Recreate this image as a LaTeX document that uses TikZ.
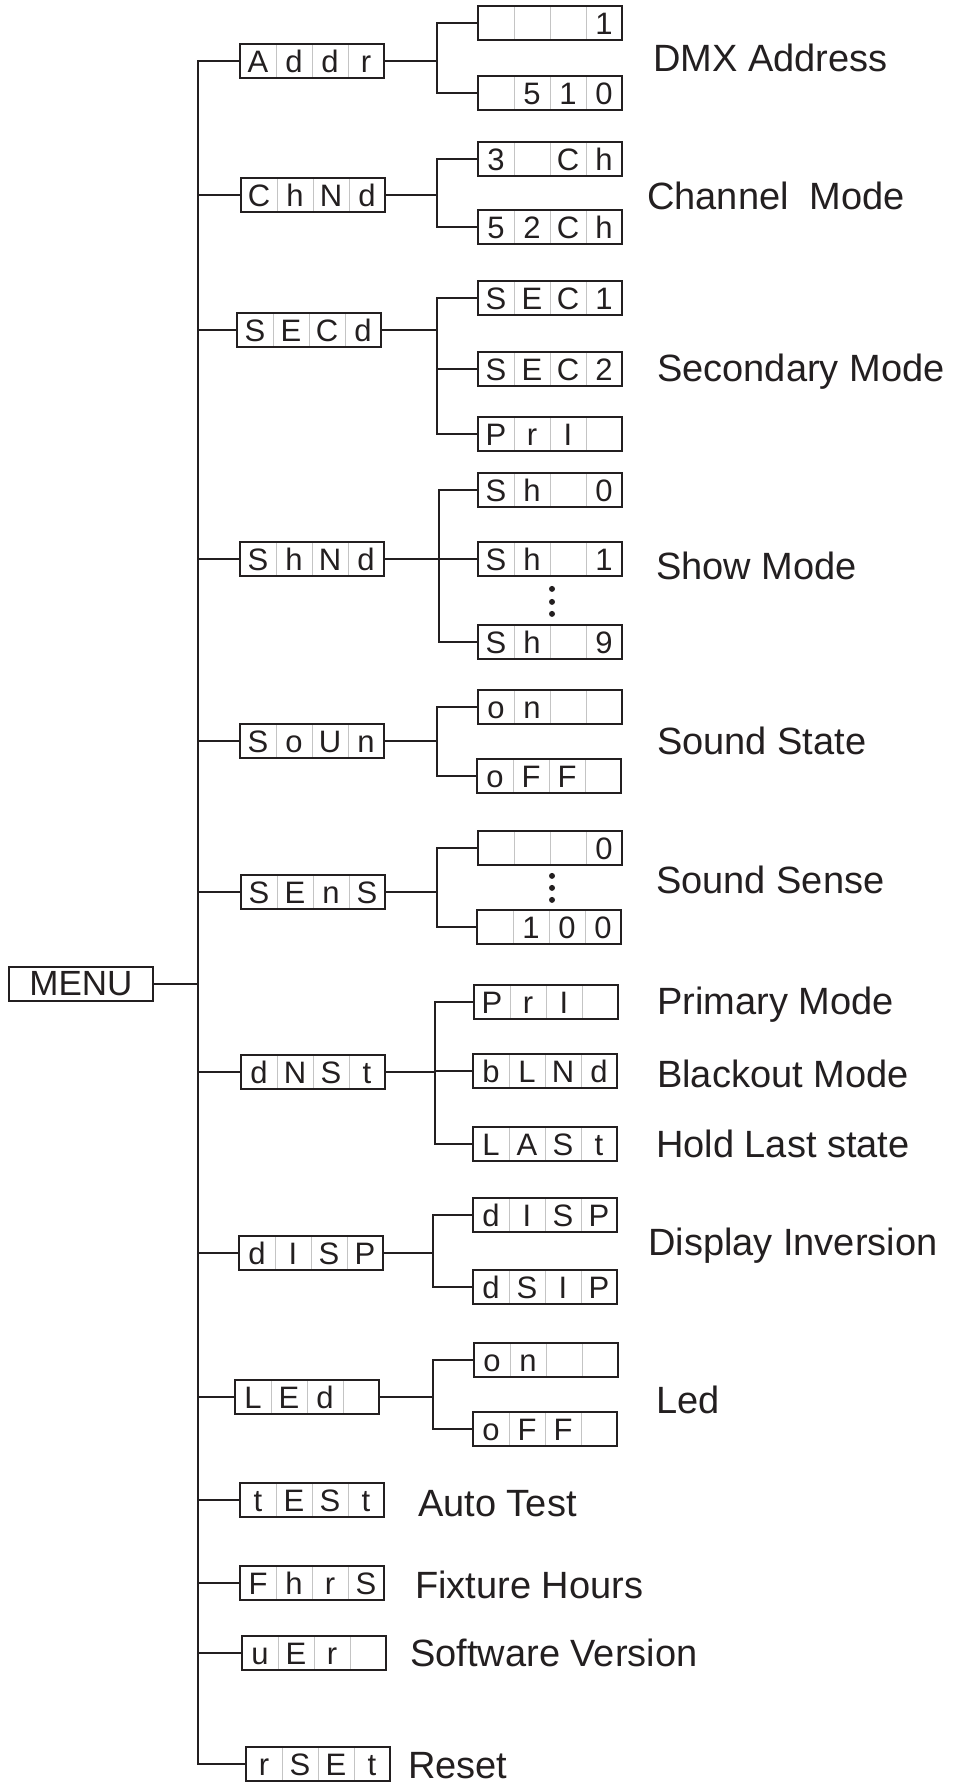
\documentclass[tikz,border=0pt]{standalone}
\usepackage{fontspec}
\setmainfont{Liberation Sans}
\usetikzlibrary{positioning}
\definecolor{Ink}{HTML}{231F20}
\definecolor{CellGrey}{HTML}{C4C4C4}
\newcommand\lcd[4]{\makebox[36pt]{#1}\makebox[36pt]{#2}\makebox[36pt]{#3}\makebox[36pt]{#4}}

\begin{document}
\begin{tikzpicture}[x=1pt,y=-1pt,
  lcd/.style={draw=Ink,line width=1.8pt,minimum width=144pt,minimum height=34pt,inner sep=0pt,text height=23pt,text depth=0pt,text=Ink,font=\fontsize{31}{31}\selectfont,
    path picture={\foreach \k in {1,2,3}{\draw[CellGrey,line width=0.8pt] ([xshift=\k*36pt]path picture bounding box.south west) -- ([xshift=\k*36pt]path picture bounding box.north west);}}},
  menubox/.style={draw=Ink,line width=1.8pt,minimum width=144pt,minimum height=34pt,inner sep=0pt,text=Ink,font=\fontsize{35}{35}\selectfont},
  lbl/.style={anchor=west,inner sep=0pt,text height=27pt,text depth=0pt,text=Ink,font=\fontsize{38}{40}\selectfont},
  conn/.style={draw=Ink,line width=2pt,line cap=rect}
]
\useasboundingbox (0,0) rectangle (957,1787);

\node[menubox] (menu) at (81,984) {MENU};

\node[lcd] (addr) at (312,61) {\lcd{A}{d}{d}{r}};
\node[lcd] (chnd) at (313,195) {\lcd{C}{h}{N}{d}};
\node[lcd] (secd) at (309,330) {\lcd{S}{E}{C}{d}};
\node[lcd] (shnd) at (312,559) {\lcd{S}{h}{N}{d}};
\node[lcd] (soun) at (312,741) {\lcd{S}{o}{U}{n}};
\node[lcd] (sens) at (313,892) {\lcd{S}{E}{n}{S}};
\node[lcd] (dnst) at (313,1072) {\lcd{d}{N}{S}{t}};
\node[lcd] (disp) at (311,1253) {\lcd{d}{I}{S}{P}};
\node[lcd] (led) at (307,1397) {\lcd{L}{E}{d}{}};
\node[lcd] (test) at (312,1500) {\lcd{t}{E}{S}{t}};
\node[lcd] (fhrs) at (312,1583) {\lcd{F}{h}{r}{S}};
\node[lcd] (ver) at (314,1653) {\lcd{u}{E}{r}{}};
\node[lcd] (rset) at (318,1764) {\lcd{r}{S}{E}{t}};

\node[lcd] (a1) at (550,23) {\lcd{}{}{}{1}};
\node[lcd] (a2) at (550,93) {\lcd{}{5}{1}{0}};
\node[lcd] (c1) at (550,159) {\lcd{3}{}{C}{h}};
\node[lcd] (c2) at (550,227) {\lcd{5}{2}{C}{h}};
\node[lcd] (s1) at (550,298) {\lcd{S}{E}{C}{1}};
\node[lcd] (s2) at (550,369) {\lcd{S}{E}{C}{2}};
\node[lcd] (s3) at (550,434) {\lcd{P}{r}{I}{}};
\node[lcd] (h0) at (550,490) {\lcd{S}{h}{}{0}};
\node[lcd] (h1) at (550,559) {\lcd{S}{h}{}{1}};
\node[lcd] (h9) at (550,642) {\lcd{S}{h}{}{9}};
\node[lcd] (on1) at (550,707) {\lcd{o}{n}{}{}};
\node[lcd] (off1) at (549,776) {\lcd{o}{F}{F}{}};
\node[lcd] (z0) at (550,848) {\lcd{}{}{}{0}};
\node[lcd] (z100) at (549,927) {\lcd{}{1}{0}{0}};
\node[lcd] (p1) at (546,1002) {\lcd{P}{r}{I}{}};
\node[lcd] (bl) at (545,1071) {\lcd{b}{L}{N}{d}};
\node[lcd] (la) at (545,1144) {\lcd{L}{A}{S}{t}};
\node[lcd] (dd1) at (545,1215) {\lcd{d}{I}{S}{P}};
\node[lcd] (dd2) at (545,1287) {\lcd{d}{S}{I}{P}};
\node[lcd] (on2) at (546,1360) {\lcd{o}{n}{}{}};
\node[lcd] (off2) at (545,1429) {\lcd{o}{F}{F}{}};

\node[lbl] (tdmx) at (653,58) {DMX Address};
\node[lbl] (tch) at (647,196) {Channel~~Mode};
\node[lbl] (tsec) at (657,368) {Secondary Mode};
\node[lbl] (tshow) at (656,566) {Show Mode};
\node[lbl] (tsst) at (657,741) {Sound State};
\node[lbl] (tsse) at (656,880) {Sound Sense};
\node[lbl] (tpri) at (657,1001) {Primary Mode};
\node[lbl] (tblk) at (657,1074) {Blackout Mode};
\node[lbl] (thold) at (656,1144) {Hold Last state};
\node[lbl] (tinv) at (648,1242) {Display Inversion};
\node[lbl] (tled) at (656,1400) {Led};
\node[lbl] (ttest) at (418,1503) {Auto Test};
\node[lbl] (thrs) at (415,1585) {Fixture Hours};
\node[lbl] (tver) at (410,1653) {Software Version};
\node[lbl] (trst) at (408,1765) {Reset};

\coordinate (trunk) at (198,0);
\draw[conn] (addr.west -| trunk) -- (rset.west -| trunk);
\draw[conn] (menu.east) -- (menu.east -| trunk);
\foreach \n in {addr,chnd,secd,shnd,soun,sens,dnst,disp,led,test,fhrs,ver,rset}
  \draw[conn] (\n.west -| trunk) -- (\n.west);

\foreach \p/\a/\b/\x in {addr/a1/a2/437,chnd/c1/c2/437,secd/s1/s3/437,shnd/h0/h9/439,soun/on1/off1/437,sens/z0/z100/437,dnst/p1/la/435,disp/dd1/dd2/433,led/on2/off2/433}{
  \coordinate (fork) at (\x,0);
  \draw[conn] (\p.east) -- (\p.east -| fork);
  \draw[conn] (\a.west -| fork) -- (\b.west -| fork);
}
\foreach \c/\x in {a1/437,a2/437,c1/437,c2/437,s1/437,s2/437,s3/437,h0/439,h1/439,h9/439,on1/437,off1/437,z0/437,z100/437,p1/435,bl/435,la/435,dd1/433,dd2/433,on2/433,off2/433}{
  \coordinate (fork) at (\x,0);
  \draw[conn] (\c.west -| fork) -- (\c.west);
}

\foreach \d in {12,25,37}
  \fill[Ink] ([yshift=-\d pt,xshift=2pt]h1.south) circle (3pt);
\foreach \d in {10,22,34}
  \fill[Ink] ([yshift=-\d pt,xshift=2pt]z0.south) circle (3pt);
\end{tikzpicture}
\end{document}
